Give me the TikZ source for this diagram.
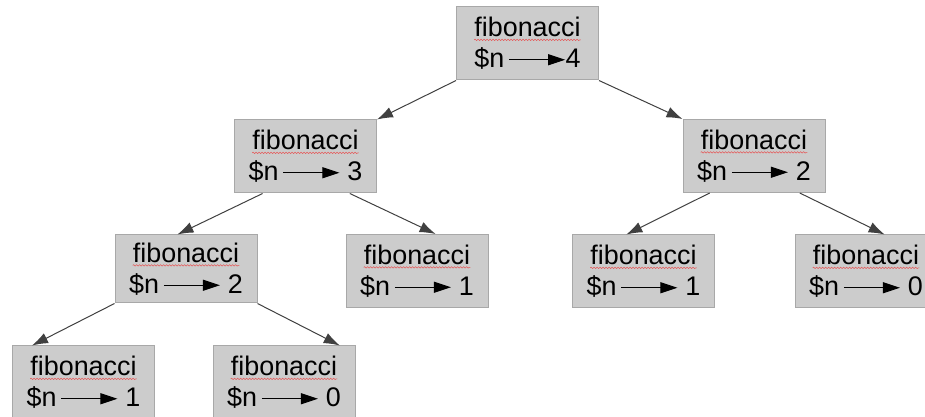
\documentclass[tikz,border=0pt]{standalone}
\usepackage{fontspec}
\setmainfont{Liberation Sans}
\usepackage[x11names, svgnames, rgb]{xcolor}
\usepackage{tikz}
\usetikzlibrary{calc, arrows.meta, decorations.pathmorphing}

\definecolor{boxfill}{rgb}{0.8,0.8,0.8}
\definecolor{boxline}{rgb}{0.66,0.66,0.66}
\definecolor{edgecol}{rgb}{0.25,0.25,0.25}
\definecolor{spellcol}{rgb}{0.9,0.35,0.35}

% word with the red squiggle under it
\newcommand{\spelled}[1]{\tikz[baseline=(w.base)]{\node[inner sep=0pt, draw=none, fill=none,
    minimum width=0pt, minimum height=0pt] (w) {#1};
  \draw[spellcol, line width=.6bp, decorate, decoration={snake, amplitude=.7bp, segment length=3bp}]
    ([yshift=-3bp]w.base west) -- ([yshift=-3bp]w.base east);}}
% the arrow between $n and the value
\newcommand{\maparrow}{\tikz[baseline=-8bp]\draw[line width=1bp, -{Triangle[length=17bp, width=11bp]}] (0bp,0bp) -- (56bp,0bp);}
\newcommand{\callbox}[1]{\spelled{fibonacci}\\\$n\,\maparrow#1}

\tikzset{
  call/.style={draw=boxline, fill=boxfill, line width=1bp, rectangle, inner sep=0pt,
    minimum width=142bp, minimum height=73bp, align=center,
    font=\fontsize{27}{31}\selectfont},
  edge/.style={draw=edgecol, line width=1bp, -{Latex[length=16bp, width=11bp]}}
}

\begin{document}
\begin{tikzpicture}
  \useasboundingbox (0bp,0bp) rectangle (925bp,417bp);
%%
  % Node: 4
  \node[call] (fibA) at (527.5bp,373.5bp) {\callbox{4}};
  % Node: 3
  \node[call] (fibB) at (305.5bp,260.5bp) {\callbox{~3}};
  % Node: 2
  \node[call] (fibC) at (754bp,261bp) {\callbox{~2}};
  % Node: 2
  \node[call, minimum height=68bp] (fibD) at (186bp,148bp) {\callbox{~2}};
  % Node: 1
  \node[call] (fibE) at (417bp,146bp) {\callbox{~1}};
  % Node: 1
  \node[call] (fibF) at (643.5bp,145.5bp) {\callbox{~1}};
  % Node: 0
  \node[call] (fibG) at (866bp,145.5bp) {\callbox{~0}};
  % Node: 1
  \node[call] (fibH) at (83.5bp,34.5bp) {\callbox{~1}};
  % Node: 0
  \node[call] (fibI) at (284bp,34.5bp) {\callbox{~0}};
%%
  % Edge: 4 -- 3
  \draw[edge] (fibA.south west) -- (fibB.north east);
  % Edge: 4 -- 2
  \draw[edge] (fibA.south east) -- (fibC.north west);
  % Edge: 3 -- 2
  \draw[edge] ($(fibB.south west)!.2!(fibB.south east)$) -- ($(fibD.north west)!.44!(fibD.north east)$);
  % Edge: 3 -- 1
  \draw[edge] ($(fibB.south west)!.81!(fibB.south east)$) -- ($(fibE.north west)!.63!(fibE.north east)$);
  % Edge: 2 -- 1
  \draw[edge] ($(fibC.south west)!.19!(fibC.south east)$) -- ($(fibF.north west)!.38!(fibF.north east)$);
  % Edge: 2 -- 0
  \draw[edge] ($(fibC.south west)!.82!(fibC.south east)$) -- ($(fibG.north west)!.63!(fibG.north east)$);
  % Edge: 2 -- 1
  \draw[edge] (fibD.south west) -- ($(fibH.north west)!.14!(fibH.north east)$);
  % Edge: 2 -- 0
  \draw[edge] (fibD.south east) -- ($(fibI.north west)!.89!(fibI.north east)$);
%
\end{tikzpicture}
\end{document}
